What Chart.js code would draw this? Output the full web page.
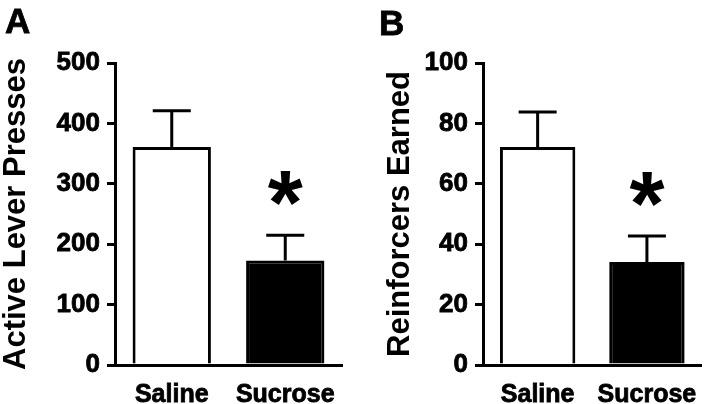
<!DOCTYPE html>
<html>
<head>
<meta charset="utf-8">
<script src="https://cdn.jsdelivr.net/npm/chart.js@4"></script>
<style>
  body { margin: 0; background: #fff; }
  #wrap { position: relative; width: 712px; height: 404px; }
  canvas { position: absolute; top: 0; }
</style>
</head>
<body>
<div id="wrap">
  <canvas id="chartA" width="356" height="404" style="left:0"></canvas>
  <canvas id="chartB" width="356" height="404" style="left:356px"></canvas>
</div>
<script>
// data (mean, SEM)
const groups = ["Saline", "Sucrose"];
const leverMean = [361, 173];
const leverSem = [60, 42];
const reinfMean = [72.2, 34.1];
const reinfSem = [11.6, 8.6];
const significant = [false, true];
const barColors = ["#ffffff", "#000000"];

const FONT = "'Liberation Sans', Arial, Helvetica, sans-serif";

// upward error bars + star over significant groups
const errorBarPlugin = {
  id: "errorBars",
  afterDatasetsDraw(chart, args, opts) {
    const ctx = chart.ctx;
    const y = chart.scales.y;
    const meta = chart.getDatasetMeta(0);
    ctx.save();
    ctx.strokeStyle = "#000";
    ctx.fillStyle = "#000";
    ctx.lineWidth = 3;
    meta.data.forEach((bar, i) => {
      const top = y.getPixelForValue(opts.means[i] + opts.sems[i]);
      ctx.beginPath();
      ctx.moveTo(bar.x, bar.y);
      ctx.lineTo(bar.x, top);
      ctx.moveTo(bar.x - 19, top);
      ctx.lineTo(bar.x + 19, top);
      ctx.stroke();
      if (significant[i]) {
        ctx.font = "bold 90px " + FONT;
        ctx.textAlign = "center";
        ctx.textBaseline = "alphabetic";
        const m = ctx.measureText("*");
        const cy = top - 47;
        ctx.fillText("*", bar.x, cy + (m.actualBoundingBoxAscent - m.actualBoundingBoxDescent) / 2);
      }
    });
    ctx.restore();
  }
};

// panel letter (A / B)
const panelLabelPlugin = {
  id: "panelLabel",
  afterDraw(chart, args, opts) {
    const ctx = chart.ctx;
    ctx.save();
    ctx.font = "bold 35px " + FONT;
    ctx.fillStyle = "#000";
    ctx.strokeStyle = "#000";
    ctx.lineWidth = 0.8;
    ctx.textAlign = "left";
    ctx.textBaseline = "alphabetic";
    ctx.fillText(opts.text, opts.x, opts.y);
    ctx.strokeText(opts.text, opts.x, opts.y);
    ctx.restore();
  }
};

function makeChart(cfg) {
  return new Chart(document.getElementById(cfg.id), {
    type: "bar",
    data: {
      labels: groups,
      datasets: [{
        data: cfg.means,
        backgroundColor: barColors,
        borderColor: "#000",
        borderWidth: 3,
        borderSkipped: "start",
        barPercentage: 0.69,
        categoryPercentage: 1
      }]
    },
    options: {
      responsive: false,
      animation: false,
      devicePixelRatio: 1,
      layout: { padding: { top: 63, right: cfg.padRight, bottom: 0, left: 0 } },
      plugins: {
        legend: { display: false },
        tooltip: { enabled: false },
        errorBars: { means: cfg.means, sems: cfg.sems },
        panelLabel: { text: cfg.letter, x: cfg.letterX, y: cfg.letterY }
      },
      scales: {
        x: {
          z: 1,
          grid: { display: true, drawOnChartArea: false, drawTicks: false },
          border: { display: true, color: "#000", width: 3 },
          ticks: {
            color: "#000", font: { family: FONT, size: 25, weight: "bold" }, padding: 15,
            textStrokeColor: "#000", textStrokeWidth: 0.8
          },
          afterFit: (s) => { s.height = 39; }
        },
        y: {
          min: 0,
          max: cfg.yMax,
          z: 1,
          ticks: {
            stepSize: cfg.yStep, color: "#000", font: { family: FONT, size: 26, weight: "bold" }, padding: 7,
            textStrokeColor: "#000", textStrokeWidth: 0.8
          },
          grid: { drawOnChartArea: false, color: "#000", lineWidth: 3, tickLength: 8, tickWidth: 3 },
          border: { display: true, color: "#000", width: 3 },
          title: {
            display: true,
            text: cfg.yTitle,
            color: "#000",
            font: { family: FONT, size: 31, weight: "bold", lineHeight: 1 },
            padding: { top: cfg.titlePad, bottom: 0 }
          },
          afterFit: (s) => { s.width = cfg.axisWidth; }
        }
      }
    },
    plugins: [errorBarPlugin, panelLabelPlugin]
  });
}

makeChart({
  id: "chartA", means: leverMean, sems: leverSem,
  yTitle: "Active Lever Presses", yMax: 500, yStep: 100,
  axisWidth: 115, titlePad: 0.5, padRight: 14,
  letter: "A", letterX: 5, letterY: 33
});

makeChart({
  id: "chartB", means: reinfMean, sems: reinfSem,
  yTitle: "Reinforcers Earned", yMax: 100, yStep: 20,
  axisWidth: 127, titlePad: 28.5, padRight: 3,
  letter: "B", letterX: 23, letterY: 35
});
</script>
</body>
</html>
